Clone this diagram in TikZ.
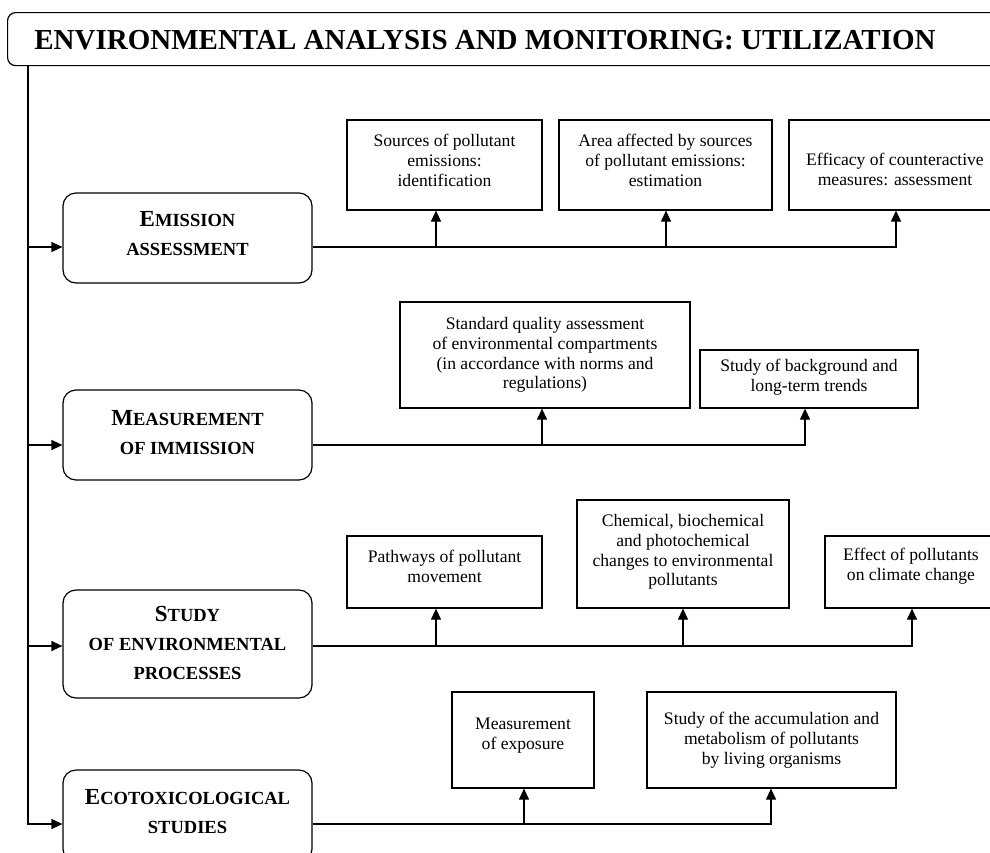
\documentclass[tikz,border=0pt]{standalone}
\usepackage{fontspec}
\setmainfont{Liberation Serif}
\usetikzlibrary{arrows.meta}
\newcommand\capbig[1]{{\fontsize{23}{29}\selectfont #1}}
\newcommand\dep[1]{\rule[-#1pt]{0pt}{#1pt}}
\newcommand\hgt[1]{\rule{0pt}{#1pt}}
\begin{document}
\begin{tikzpicture}[x=1pt,y=-1pt,line width=1.2pt,
  mainbox/.style={draw, rounded corners=13pt, minimum width=249pt, inner sep=0pt,
    align=center, font=\bfseries\fontsize{18.5}{29}\selectfont},
  subbox/.style={draw, inner sep=0pt, align=center,
    font=\fontsize{17.6}{19.8}\selectfont},
  arr/.style={-{Triangle[length=11pt,width=10pt]}}]
\useasboundingbox (0,0) rectangle (990,852);

% title
\node[draw, rounded corners=8pt, minimum width=1003pt, minimum height=53pt,
  anchor=north west, inner sep=0pt] (title) at (7,12) {};
\node[font=\bfseries\fontsize{29}{30}\selectfont] (ttext) at (485,40)
  {ENVIRONMENTAL ANALYSIS AND MONITORING: UTILIZATION};

% main boxes
\node[mainbox, minimum height=90pt] (E) at (187.5,238)
  {\capbig{E}MISSION\\ASSESSMENT\dep{10}};
\node[mainbox, minimum height=90pt] (M) at (187.5,435)
  {\capbig{M}EASUREMENT\\OF IMMISSION\dep{6}};
\node[mainbox, minimum height=108pt] (S) at (187.5,644)
  {\capbig{S}TUDY\\OF ENVIRONMENTAL\\PROCESSES\dep{3}};
\node[mainbox, minimum height=92pt] (X) at (187.5,816)
  {\capbig{E}COTOXICOLOGICAL\\STUDIES\dep{9}};

% sub boxes row 1
\node[subbox, minimum width=195pt, minimum height=90pt] (s11) at (444.5,165)
  {Sources of pollutant\\emissions:\\identification\dep{10}};
\node[subbox, minimum width=213pt, minimum height=90pt] (s12) at (665.5,165)
  {Area affected by sources\\of pollutant emissions:\\estimation\dep{10}};
\node[subbox, minimum width=212pt, minimum height=90pt] (s13) at (895,165)
  {\hgt{22}Efficacy of counteractive\\measures: assessment};
% row 2
\node[subbox, minimum width=290pt, minimum height=106pt] (s21) at (545,355)
  {Standard quality assessment\\of environmental compartments\\(in accordance with norms and\\regulations)};
\node[subbox, minimum width=218pt, minimum height=58pt] (s22) at (809,379)
  {Study of background and\\long-term trends\dep{8}};
% row 3
\node[subbox, minimum width=195pt, minimum height=72pt] (s31) at (444.5,572)
  {Pathways of pollutant\\movement\dep{12}};
\node[subbox, minimum width=212pt, minimum height=108pt] (s32) at (683,554)
  {Chemical, biochemical\\and photochemical\\changes to environmental\\pollutants\dep{8}};
\node[subbox, minimum width=172pt, minimum height=72pt] (s33) at (911,572)
  {Effect of pollutants\\on climate change\dep{15}};
% row 4
\node[subbox, minimum width=142pt, minimum height=96pt] (s41) at (523,740)
  {Measurement\\of exposure\dep{12}};
\node[subbox, minimum width=249pt, minimum height=96pt] (s42) at (771.5,740)
  {Study of the accumulation and\\metabolism of pollutants\\by living organisms};

% junction coordinates
\coordinate (vt) at (28,65);
\coordinate (jE) at (28,247);
\coordinate (jM) at (28,445);
\coordinate (jS) at (28,646);
\coordinate (jX) at (28,824);
\coordinate (pE1) at (436,247);
\coordinate (pE2) at (666,247);
\coordinate (pE3) at (896,247);
\coordinate (pM1) at (542,445);
\coordinate (pM2) at (805,445);
\coordinate (pS1) at (436,646);
\coordinate (pS2) at (683,646);
\coordinate (pS3) at (912,646);
\coordinate (pX1) at (524,824);
\coordinate (pX2) at (771,824);

% trunk
\draw[arr] (vt) |- (jX -| X.west);
\draw[arr] (jE) -- (jE -| E.west);
\draw[arr] (jM) -- (jM -| M.west);
\draw[arr] (jS) -- (jS -| S.west);

% branches
\draw (jE -| E.east) -- (pE1);
\draw[arr] (pE1) -- (pE1 |- s11.south);
\draw[arr] (pE1) -- (pE2) -- (pE2 |- s12.south);
\draw[arr] (pE2) -- (pE3) -- (pE3 |- s13.south);

\draw (jM -| M.east) -- (pM1);
\draw[arr] (pM1) -- (pM1 |- s21.south);
\draw[arr] (pM1) -- (pM2) -- (pM2 |- s22.south);

\draw (jS -| S.east) -- (pS1);
\draw[arr] (pS1) -- (pS1 |- s31.south);
\draw[arr] (pS1) -- (pS2) -- (pS2 |- s32.south);
\draw[arr] (pS2) -- (pS3) -- (pS3 |- s33.south);

\draw (jX -| X.east) -- (pX1);
\draw[arr] (pX1) -- (pX1 |- s41.south);
\draw[arr] (pX1) -- (pX2) -- (pX2 |- s42.south);
\end{tikzpicture}
\end{document}
